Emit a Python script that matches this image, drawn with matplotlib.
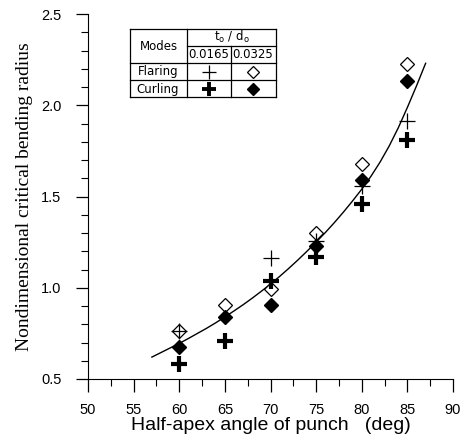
import matplotlib
matplotlib.use('Agg')
import matplotlib.pyplot as plt
from matplotlib.ticker import MultipleLocator

# Data
angles = [60, 65, 70, 75, 80, 85]
flaring_thin = [0.765, None, 1.163, 1.258, 1.555, 1.912]       # t0/d0 = 0.0165
flaring_thick = [0.765, 0.907, 0.995, 1.30, 1.68, 2.225]       # t0/d0 = 0.0325
curling_thin = [0.58, 0.707, 1.035, 1.167, 1.46, 1.811]        # t0/d0 = 0.0165
curling_thick = [0.677, 0.837, 0.907, 1.227, 1.592, 2.132]     # t0/d0 = 0.0325

# fitted curve
curve_x = [57, 58, 59, 60, 61, 62, 63, 64, 65, 66, 67, 68, 69, 70, 71, 72,
           73, 74, 75, 76, 77, 78, 79, 80, 81, 82, 83, 84, 85, 86, 87]
curve_y = [0.620, 0.645, 0.670, 0.695, 0.722, 0.750, 0.778, 0.808, 0.840,
           0.873, 0.907, 0.943, 0.981, 1.020, 1.062, 1.106, 1.152, 1.200,
           1.250, 1.302, 1.357, 1.415, 1.476, 1.540, 1.610, 1.688, 1.776,
           1.876, 1.988, 2.106, 2.230]

fig = plt.figure(figsize=(4.66, 4.43), dpi=100)
ax = fig.add_axes([88/466, 64/443, 365/466, 365/443])

ax.plot(curve_x, curve_y, color='black', lw=1.0)

def pts(ys):
    xs = [a for a, v in zip(angles, ys) if v is not None]
    vs = [v for v in ys if v is not None]
    return xs, vs

x, y = pts(flaring_thin)
ax.plot(x, y, ls='none', marker='+', ms=11, mew=0.9, color='black', zorder=4)
x, y = pts(flaring_thick)
ax.plot(x, y, ls='none', marker='D', ms=7, mew=0.9, mfc='white', mec='black', zorder=3)
x, y = pts(curling_thin)
ax.plot(x, y, ls='none', marker='+', ms=11, mew=3, color='black', zorder=4)
x, y = pts(curling_thick)
ax.plot(x, y, ls='none', marker='D', ms=7, color='black', zorder=4)

ax.set_xlim(50, 90)
ax.set_ylim(0.5, 2.5)
ax.xaxis.set_major_locator(MultipleLocator(5))
ax.xaxis.set_minor_locator(MultipleLocator(2.5))
ax.yaxis.set_major_locator(MultipleLocator(0.5))
ax.yaxis.set_minor_locator(MultipleLocator(0.1))
ax.yaxis.set_major_formatter(plt.FormatStrFormatter('%.1f'))
ax.spines['top'].set_visible(False)
ax.spines['right'].set_visible(False)
ax.tick_params(which='major', length=9, width=0.9, labelsize=10.5)
ax.tick_params(axis='y', which='major', pad=10)
ax.tick_params(axis='x', which='major', pad=8)
ax.tick_params(which='minor', length=4.8, width=0.8)
for lab in ax.get_xticklabels() + ax.get_yticklabels():
    lab.set_family('Liberation Sans')

ax.set_xlabel('Half-apex angle of punch   (deg)', family='Liberation Sans',
              fontsize=14, labelpad=0)
ax.set_ylabel('Nondimensional critical bending radius', family='Liberation Serif',
              fontsize=14, labelpad=6)

# inset legend table (figure pixel coordinates, origin top-left)
def fx(px):
    return px / 466
def fy(py):
    return 1 - py / 443

lw = 0.9
segs = [
    ((130, 29), (276, 29)), ((130, 97), (276, 97)), ((130, 29), (130, 97)),
    ((276, 29), (276, 97)), ((187, 29), (187, 97)), ((187, 46), (276, 46)),
    ((130, 63), (276, 63)), ((130, 80), (276, 80)), ((231, 46), (231, 97)),
]
for (x0, y0), (x1, y1) in segs:
    fig.add_artist(plt.Line2D([fx(x0), fx(x1)], [fy(y0), fy(y1)], color='black',
                              lw=lw, transform=fig.transFigure))

tfont = dict(family='DejaVu Sans', fontsize=8.5, ha='center', va='center')
fig.text(fx(159), fy(46), 'Modes', **tfont)
fig.text(fx(232), fy(37), '$\\mathregular{t_o}$ / $\\mathregular{d_o}$', **tfont)
fig.text(fx(209), fy(55), '0.0165', **tfont)
fig.text(fx(253), fy(55), '0.0325', **tfont)
fig.text(fx(158), fy(72), 'Flaring', **tfont)
fig.text(fx(158), fy(89), 'Curling', **tfont)

fig.add_artist(plt.Line2D([fx(209)], [fy(72)], ls='none', marker='+', ms=10, mew=0.9,
                          color='black', transform=fig.transFigure))
fig.add_artist(plt.Line2D([fx(253)], [fy(72)], ls='none', marker='D', ms=6.5, mew=0.9,
                          mfc='white', mec='black', transform=fig.transFigure))
fig.add_artist(plt.Line2D([fx(209)], [fy(89)], ls='none', marker='+', ms=10, mew=2.8,
                          color='black', transform=fig.transFigure))
fig.add_artist(plt.Line2D([fx(253)], [fy(89)], ls='none', marker='D', ms=6.5,
                          color='black', transform=fig.transFigure))

fig.savefig('out.png', dpi=100)
